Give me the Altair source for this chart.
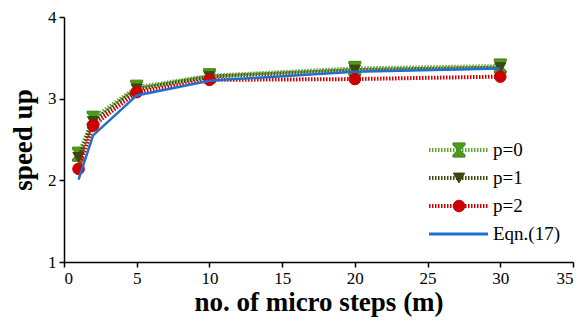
import altair as alt
import pandas as pd

m = [1, 2, 5, 10, 20, 30]
p0 = [2.32, 2.76, 3.14, 3.28, 3.37, 3.40]
p1 = [2.28, 2.72, 3.12, 3.27, 3.35, 3.38]
p2 = [2.14, 2.67, 3.08, 3.23, 3.24, 3.27]
eqn = [2.01, 2.55, 3.04, 3.22, 3.33, 3.37]
series = ["p=0", "p=1", "p=2", "Eqn.(17)"]
x_ticks = [0, 5, 10, 15, 20, 25, 30, 35]
y_ticks = [1, 2, 3, 4]

FONT = "'Liberation Serif', 'DejaVu Serif', serif"
HOURGLASS = "M-0.85,-1L0.85,-1L0.85,-0.7L0.18,0L0.85,0.7L0.85,1L-0.85,1L-0.85,0.7L-0.18,0L-0.85,-0.7Z"

styles = {
    "p=0": dict(line="#62a82c", fill="#4e9a1c", stroke="#3f7f14", shape=HOURGLASS, size=200, dash=[1.5, 1.5], width=4),
    "p=1": dict(line="#3a4a0c", fill="#3a4a0c", stroke="#3a4a0c", shape="triangle-down", size=130, dash=[1.5, 1.5], width=4),
    "p=2": dict(line="#d20000", fill="#cc0000", stroke="#cc0000", shape="circle", size=135, dash=[1.5, 1.5], width=4),
    "Eqn.(17)": dict(line="#1f6fd0", dash=None, width=2.5),
}
vals = {"p=0": p0, "p=1": p1, "p=2": p2, "Eqn.(17)": eqn}

xs = alt.Scale(domain=[0, 35], nice=False)
ys = alt.Scale(domain=[1, 4], nice=False)
xax = alt.Axis(values=x_ticks, title="no. of micro steps (m)", grid=False)
yax = alt.Axis(values=y_ticks, title="speed up", grid=False)

layers = []
for s in series:
    st = styles[s]
    df = pd.DataFrame({"m": m, "v": vals[s]})
    base = alt.Chart(df).encode(x=alt.X("m:Q", scale=xs, axis=xax), y=alt.Y("v:Q", scale=ys, axis=yax))
    lk = dict(color=st["line"], strokeWidth=st["width"], clip=False)
    if st["dash"]:
        lk["strokeDash"] = st["dash"]
    layers.append(base.mark_line(**lk))
    if "shape" in st:
        layers.append(base.mark_point(shape=st["shape"], size=st["size"], filled=True,
                                      fill=st["fill"], stroke=st["stroke"], strokeWidth=1, opacity=1))

# legend
leg_y = [133, 161, 189, 217]
for s, yy in zip(series, leg_y):
    st = styles[s]
    ld = pd.DataFrame({"series": [s]})
    rk = dict(color=st["line"], strokeWidth=st["width"] if st["dash"] else 3)
    if st["dash"]:
        rk["strokeDash"] = st["dash"]
    layers.append(alt.Chart(ld).mark_rule(**rk).encode(x=alt.value(365), x2=alt.value(424), y=alt.value(yy)))
    if "shape" in st:
        layers.append(alt.Chart(ld).mark_point(shape=st["shape"], size=st["size"], filled=True,
                                               fill=st["fill"], stroke=st["stroke"], strokeWidth=1, opacity=1)
                      .encode(x=alt.value(395), y=alt.value(yy)))
    layers.append(alt.Chart(ld).mark_text(align="left", baseline="middle", font=FONT, fontSize=19, color="black")
                  .encode(x=alt.value(429), y=alt.value(yy), text="series:N"))

chart = alt.layer(*layers).properties(
    width=509, height=245,
    autosize=alt.AutoSizeParams(type="none"),
    padding={"left": 56, "top": 9, "right": 2, "bottom": 59},
).configure_view(stroke=None).configure_axis(
    domainColor="black", domainWidth=1.5, tickColor="black", tickWidth=1.5, tickSize=5,
    labelFont=FONT, labelFontSize=17, labelColor="black", labelPadding=3,
    titleFont=FONT, titleFontSize=27, titleFontWeight="bold", titleColor="black",
).configure_axisY(titlePadding=10).configure_axisX(titlePadding=3)

chart.save("out.html", embed_options={"renderer": "svg", "actions": False})
